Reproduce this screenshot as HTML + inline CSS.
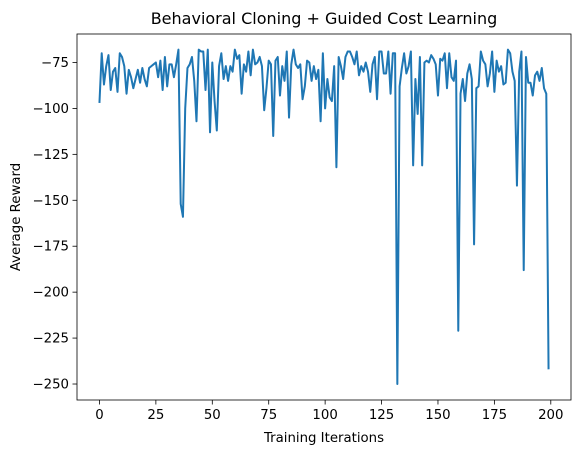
<!DOCTYPE html>
<html><head><meta charset="utf-8"><style>
body{margin:0;background:#fff;font-family:"Liberation Sans","DejaVu Sans",sans-serif}
svg text{font-family:"DejaVu Sans","Liberation Sans",sans-serif;fill:#000}
</style></head><body>
<svg id="chart" width="583" height="455" xmlns="http://www.w3.org/2000/svg">
<rect width="583" height="455" fill="#fff"/>
<text x="324" y="24" font-size="16" text-anchor="middle">Behavioral Cloning + Guided Cost Learning</text>
<g id="xticks"></g><g id="yticks"></g>
<path id="line" fill="none" stroke="#1f77b4" stroke-width="2" stroke-linejoin="round"/>
<rect x="77" y="34" width="494" height="366" fill="none" stroke="#000" stroke-width="0.8"/>
<text x="324" y="442" font-size="13.3" text-anchor="middle">Training Iterations</text>
<text transform="translate(20,217) rotate(-90)" font-size="13.3" text-anchor="middle">Average Reward</text>
</svg>
<script>
const rewards=[-97,-70,-87,-77,-71,-90,-80,-78,-91,-70,
-72,-77,-92,-79,-83,-89,-84,-79,-86,-78,
-84,-88,-78,-77,-76,-75,-83,-74,-90,-72,
-88,-76,-76,-83,-76,-68,-152,-159,-100,-78,
-76,-72,-85,-107,-68,-69,-69,-90,-68,-113,
-75,-96,-112,-77,-70,-84,-77,-85,-77,-80,
-68,-73,-71,-92,-76,-80,-69,-82,-68,-76,
-75,-72,-77,-101,-89,-74,-76,-115,-74,-72,
-93,-77,-85,-69,-105,-76,-68,-76,-78,-76,
-95,-88,-74,-75,-85,-77,-84,-79,-107,-70,
-100,-84,-94,-96,-77,-132,-72,-77,-84,-72,
-69,-69,-72,-76,-69,-82,-77,-80,-75,-80,
-91,-76,-72,-95,-69,-69,-81,-81,-69,-92,
-70,-70,-250,-88,-78,-70,-81,-77,-69,-131,
-84,-103,-72,-131,-75,-74,-75,-71,-73,-76,
-93,-73,-74,-70,-89,-70,-83,-85,-74,-221,
-92,-84,-96,-81,-76,-84,-174,-89,-88,-69,
-74,-76,-88,-81,-69,-91,-74,-80,-77,-87,
-86,-68,-70,-80,-85,-142,-80,-69,-188,-72,
-86,-86,-93,-82,-80,-85,-78,-89,-92,-242];
const xTicks=[0,25,50,75,100,125,150,175,200];
const yTicks=[-75,-100,-125,-150,-175,-200,-225,-250];
const X0=77,X1=571,Y0=34,Y1=400,xmin=-9.95,xmax=208.95,ymin=-258.7,ymax=-59.5;
const sx=v=>X0+(v-xmin)/(xmax-xmin)*(X1-X0);
const sy=v=>Y1-(v-ymin)/(ymax-ymin)*(Y1-Y0);
const NS="http://www.w3.org/2000/svg";
document.getElementById('line').setAttribute('d',rewards.map((v,i)=>(i?'L':'M')+sx(i).toFixed(2)+','+sy(v).toFixed(2)).join(''));
const xg=document.getElementById('xticks');
xTicks.forEach(t=>{const x=sx(t);
const l=document.createElementNS(NS,'line');l.setAttribute('x1',x);l.setAttribute('x2',x);l.setAttribute('y1',Y1);l.setAttribute('y2',Y1+4.5);l.setAttribute('stroke','#000');l.setAttribute('stroke-width','0.8');


xg.appendChild(l);
const tx=document.createElementNS(NS,'text');tx.setAttribute('x',x);tx.setAttribute('y',Y1+19);tx.setAttribute('font-size','13.3');tx.setAttribute('text-anchor','middle');tx.textContent=t;


xg.appendChild(tx);});
const yg=document.getElementById('yticks');
yTicks.forEach(t=>{const y=sy(t);
const l=document.createElementNS(NS,'line');l.setAttribute('x1',X0-4.5);l.setAttribute('x2',X0);l.setAttribute('y1',y);l.setAttribute('y2',y);l.setAttribute('stroke','#000');l.setAttribute('stroke-width','0.8');


yg.appendChild(l);
const tx=document.createElementNS(NS,'text');tx.setAttribute('x',X0-8);tx.setAttribute('y',y+4.5);tx.setAttribute('font-size','13.3');tx.setAttribute('text-anchor','end');tx.textContent='\u2212'+Math.abs(t);


yg.appendChild(tx);});
</script>
</body></html>
